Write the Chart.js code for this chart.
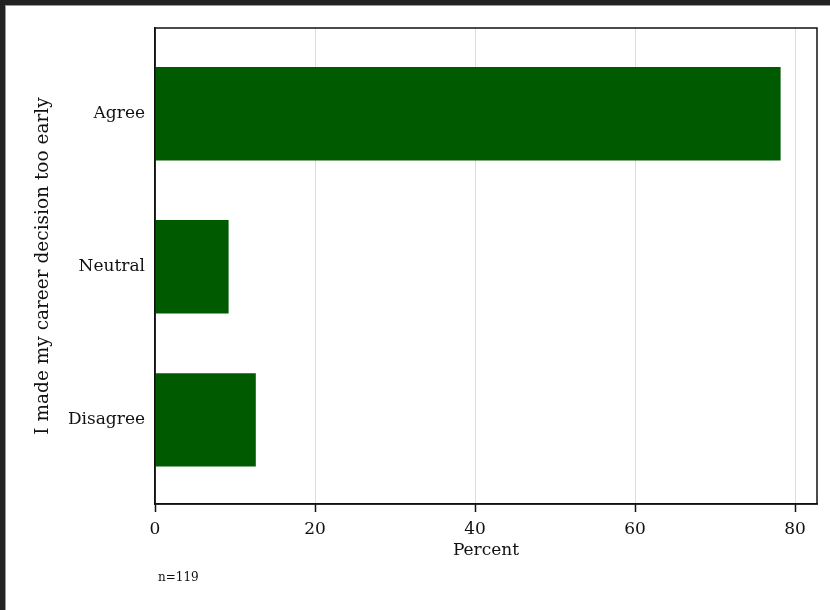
<!DOCTYPE html>
<html><head><meta charset="utf-8">
<script src="https://cdn.jsdelivr.net/npm/chart.js@4/dist/chart.umd.min.js"></script>
<style>html,body{margin:0;padding:0;background:#fff;} canvas{display:block}</style>
</head><body><canvas id="c" width="830" height="610"></canvas>
<script>
const categories = ['Agree', 'Neutral', 'Disagree'];
const percent = [78.2, 9.2, 12.6];
const xTickValues = [0, 20, 40, 60, 80];
const sampleNote = 'n=119';
const yTitle = 'I made my career decision too early';
const xTitle = 'Percent';

const FONT = 'DejaVu Serif';
const INK = '#111';

const points = categories.map((c, i) => ({ x: percent[i], y: categories.length - 1 - i }));

const framePlugin = {
  id: 'frame',
  beforeDraw(chart) {
    const ctx = chart.ctx;
    ctx.save();
    ctx.fillStyle = '#fff';
    ctx.fillRect(0, 0, chart.width, chart.height);
    ctx.restore();
  },
  afterDraw(chart) {
    const ctx = chart.ctx, a = chart.chartArea;
    ctx.save();
    ctx.strokeStyle = INK;
    ctx.lineWidth = 1.5;
    ctx.strokeRect(a.left, a.top, a.right - a.left, a.bottom - a.top);
    ctx.fillStyle = INK;
    ctx.font = '12px "' + FONT + '"';
    ctx.textBaseline = 'middle';
    ctx.textAlign = 'left';
    ctx.fillText(sampleNote, a.left + 3, a.bottom + 74);
    ctx.fillStyle = '#222';
    ctx.fillRect(0, 0, chart.width, 5);
    ctx.fillRect(0, 0, 5, chart.height);
    ctx.fillStyle = '#999';
    ctx.fillRect(5, 5, chart.width - 5, 1);
    ctx.fillRect(5, 5, 1, chart.height - 5);
    ctx.restore();
  }
};

new Chart(document.getElementById('c'), {
  type: 'bar',
  data: {
    datasets: [{
      data: points,
      backgroundColor: '#005a00',
      borderWidth: 0,
      barPercentage: 0.61,
      categoryPercentage: 1
    }]
  },
  options: {
    indexAxis: 'y',
    responsive: false,
    animation: false,
    devicePixelRatio: 1,
    layout: { padding: { left: 32, right: 13, top: 28, bottom: 49 } },
    plugins: { legend: { display: false }, tooltip: { enabled: false } },
    scales: {
      x: {
        type: 'linear',
        min: 0,
        max: 82.75,
        offset: false,
        afterBuildTicks: s => { s.ticks = xTickValues.map(v => ({ value: v })); },
        afterFit: s => { s.height = 57; },
        grid: { color: '#dcdcdc', lineWidth: 1, tickColor: INK, tickLength: 8, tickWidth: 1.5, offset: false },
        border: { display: true, color: INK, width: 1.5 },
        ticks: { color: INK, font: { family: FONT, size: 17 }, padding: 7, maxRotation: 0 },
        title: { display: true, text: xTitle, color: INK, font: { family: FONT, size: 17 }, padding: { top: 0, bottom: 0 } }
      },
      y: {
        type: 'linear',
        min: -0.55,
        max: 2.56,
        offset: false,
        afterBuildTicks: s => { s.ticks = categories.map((c, i) => ({ value: i })); },
        afterFit: s => { s.width = 123; },
        grid: { display: false, drawTicks: false, offset: false },
        border: { display: true, color: INK, width: 1.5 },
        ticks: {
          color: INK, font: { family: FONT, size: 17 }, padding: 10,
          callback: v => categories[categories.length - 1 - v]
        },
        title: { display: true, text: yTitle, color: INK, font: { family: FONT, size: 18.5 }, padding: 0 }
      }
    }
  },
  plugins: [framePlugin]
});
</script>
</body></html>
